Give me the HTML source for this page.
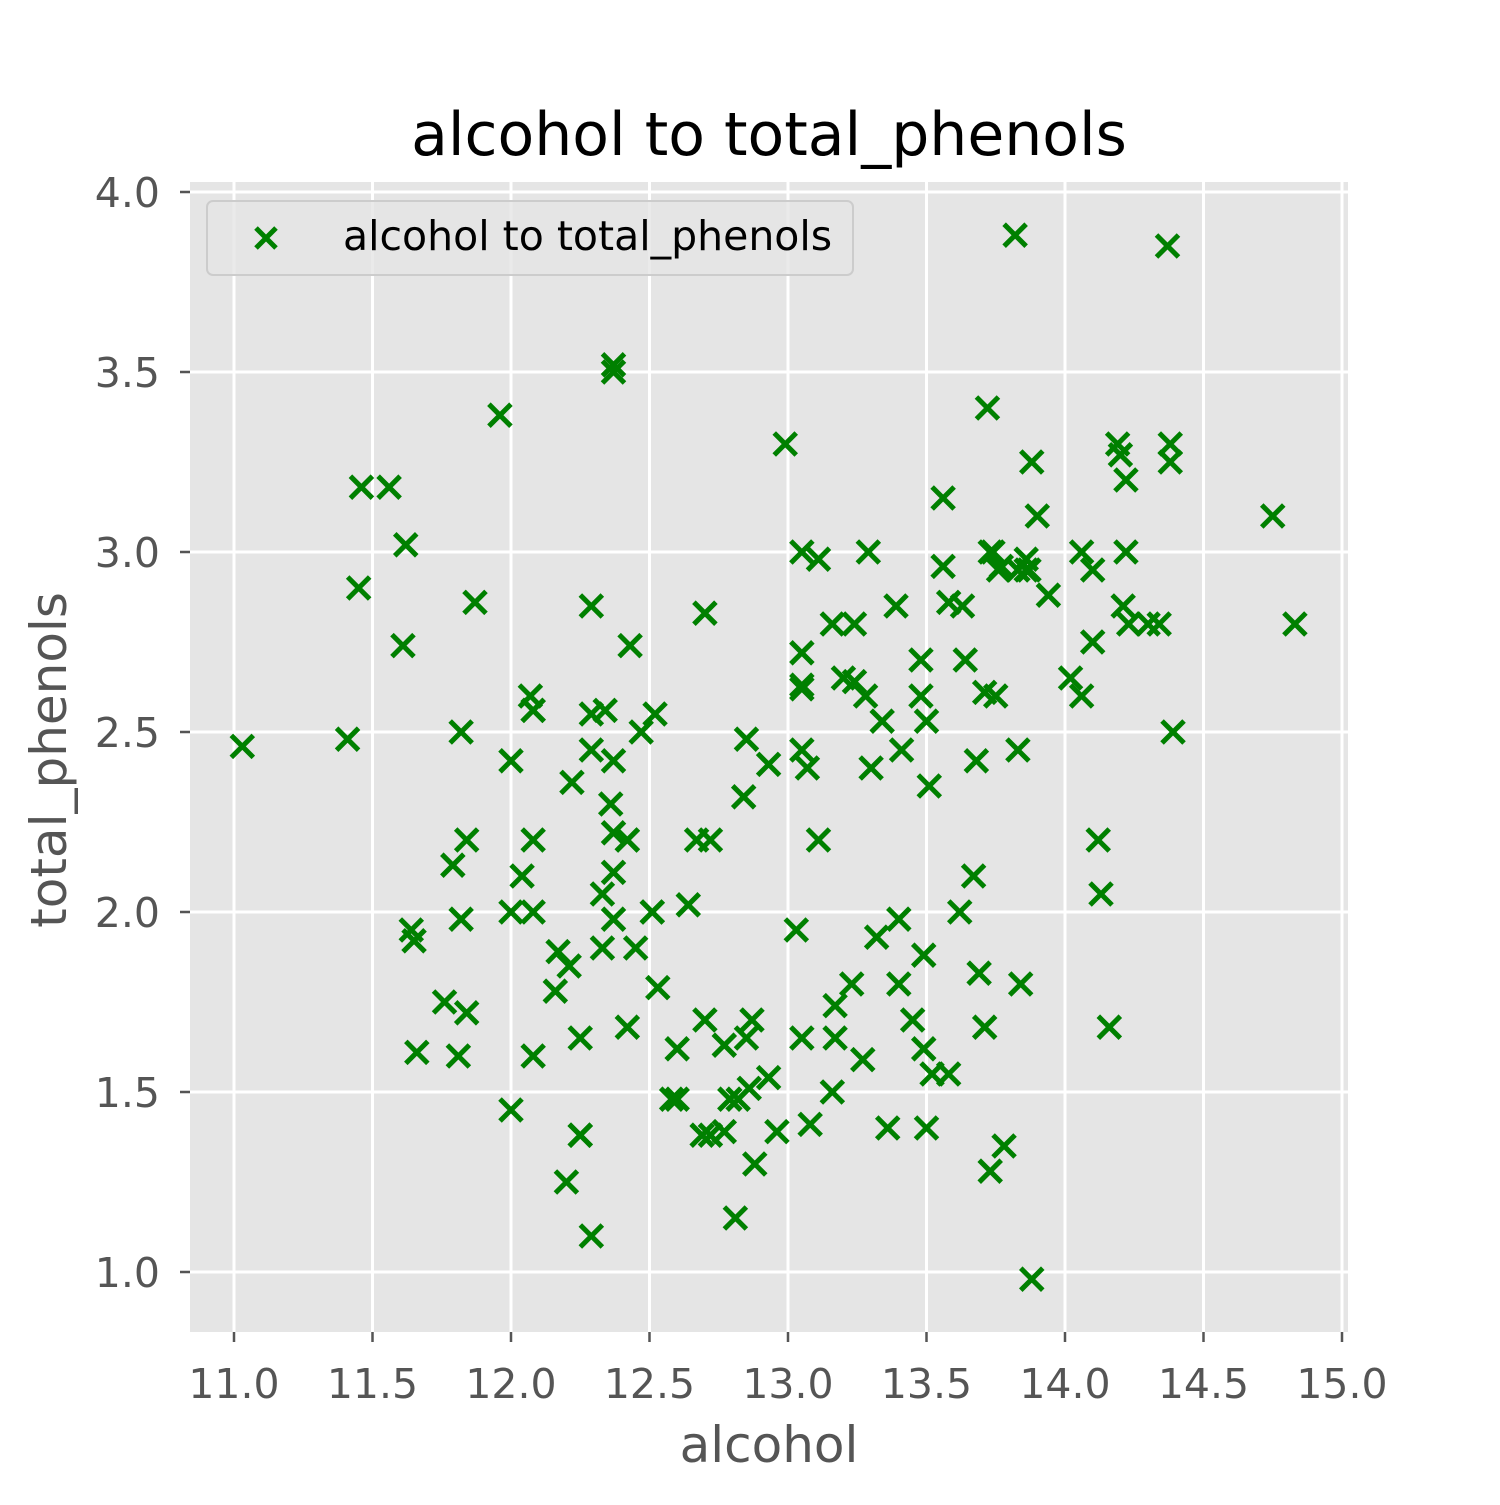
<!DOCTYPE html>
<html><head><meta charset="utf-8"><style>
html,body{margin:0;padding:0;background:#fff;}
svg text{font-family:"DejaVu Sans","Liberation Sans",sans-serif;}
</style></head><body>
<svg id="chart" width="1500" height="1500" xmlns="http://www.w3.org/2000/svg">
<rect width="1500" height="1500" fill="#fff"/>
<text x="769" y="155" font-size="60" text-anchor="middle" fill="#000">alcohol to total_phenols</text>
<rect x="190" y="182" width="1158" height="1150" fill="#e5e5e5"/>
<g id="grid"></g>
<g id="ticks"></g>
<g id="points"></g>
<text x="769" y="1462" font-size="50" text-anchor="middle" fill="#555">alcohol</text>
<text transform="translate(66,760) rotate(-90)" font-size="50" text-anchor="middle" fill="#555">total_phenols</text>
<g>
<rect x="207" y="201" width="646" height="74" rx="6" fill="#e5e5e5" fill-opacity="0.8" stroke="#ccc" stroke-width="2"/>
<path d="M256 228 L276 248 M276 228 L256 248" stroke="#008000" stroke-width="5"/>
<text x="343" y="250" font-size="41" fill="#000">alcohol to total_phenols</text>
</g>
</svg>
<script>
const alcohol=[14.23,13.2,13.16,14.37,13.24,14.2,14.39,14.06,14.83,13.86,14.1,14.12,13.75,14.75,14.38,13.63,14.3,13.83,14.19,13.64,14.06,12.93,13.71,12.85,13.5,13.05,13.39,13.3,13.87,14.02,13.73,13.58,13.68,13.76,13.51,13.48,13.28,13.05,13.07,14.22,13.56,13.41,13.88,13.24,13.05,14.21,14.38,13.9,14.1,13.94,13.05,13.83,13.82,13.77,13.74,13.56,14.22,13.29,13.72,12.37,12.33,12.64,13.67,12.37,12.17,12.37,13.11,12.37,13.34,12.21,12.29,13.86,13.49,12.99,11.96,11.66,13.03,11.84,12.33,12.7,12.0,12.72,12.08,13.05,11.84,12.67,12.16,11.65,11.64,12.08,12.08,12.0,12.69,12.29,11.62,12.47,11.81,12.29,12.37,12.29,12.08,12.6,12.34,11.82,12.51,12.42,12.25,12.72,12.22,11.61,11.46,12.52,11.76,11.41,12.08,11.03,11.82,12.42,12.77,12.0,11.45,11.56,12.42,13.05,11.87,12.07,12.43,11.79,12.37,12.04,12.86,12.88,12.81,12.7,12.51,12.6,12.25,12.53,13.49,12.84,12.93,13.36,13.52,13.62,12.25,13.16,13.88,12.87,13.32,13.08,13.5,12.79,13.11,13.23,12.58,13.17,13.84,12.45,14.34,13.48,12.36,13.69,12.85,12.96,13.78,13.73,13.45,12.82,13.58,13.4,12.2,12.77,14.16,13.71,13.4,13.27,13.17,14.13];
const phenols=[2.8,2.65,2.8,3.85,2.8,3.27,2.5,2.6,2.8,2.98,2.95,2.2,2.6,3.1,3.3,2.85,2.8,2.95,3.3,2.7,3.0,2.41,2.61,2.48,2.53,2.63,2.85,2.4,2.95,2.65,3.0,2.86,2.42,2.95,2.35,2.7,2.6,2.45,2.4,3.0,3.15,2.45,3.25,2.64,3.0,2.85,3.25,3.1,2.75,2.88,2.72,2.45,3.88,2.96,3.0,2.96,3.2,3.0,3.4,1.98,2.05,2.02,2.1,3.5,1.89,2.42,2.98,2.11,2.53,1.85,1.1,2.95,1.88,3.3,3.38,1.61,1.95,1.72,1.9,2.83,2.42,2.2,2.0,1.65,2.2,2.2,1.78,1.92,1.95,2.2,1.6,1.45,1.38,2.55,3.02,2.5,1.6,2.85,3.52,2.45,2.56,1.48,2.56,1.98,2.0,1.68,1.65,1.38,2.36,2.74,3.18,2.55,1.75,2.48,2.56,2.46,2.5,2.2,1.63,2.0,2.9,3.18,2.2,2.62,2.86,2.6,2.74,2.13,2.22,2.1,1.51,1.3,1.15,1.7,2.0,1.62,1.38,1.79,1.62,2.32,1.54,1.4,1.55,2.0,1.38,1.5,0.98,1.7,1.93,1.41,1.4,1.48,2.2,1.8,1.48,1.74,1.8,1.9,2.8,2.6,2.3,1.83,1.65,1.39,1.35,1.28,1.7,1.48,1.55,1.98,1.25,1.39,1.68,1.68,1.8,1.59,1.65,2.05];
const xTicks=[11.0,11.5,12.0,12.5,13.0,13.5,14.0,14.5,15.0];
const yTicks=[1.0,1.5,2.0,2.5,3.0,3.5,4.0];
const NS="http://www.w3.org/2000/svg";
function sx(v){return 234+(v-11)*277;}
function sy(v){return 1272-(v-1)*360;}
function mk(tag,attrs,parent){const e=document.createElementNS(NS,tag);for(const k in attrs)e.setAttribute(k,attrs[k]);parent.appendChild(e);return e;}
const grid=document.getElementById('grid'),ticks=document.getElementById('ticks'),pts=document.getElementById('points');
xTicks.forEach(t=>{
  const x=sx(t);
  const g=mk('line',{x1:x,x2:x,y1:182,y2:1332,stroke:'#fff','stroke-width':3},grid);
  
  
  mk('line',{x1:x,x2:x,y1:1332,y2:1342,stroke:'#555','stroke-width':2.5},ticks);
  const l=mk('text',{x:x,y:1398,'font-size':41,'text-anchor':'middle',fill:'#555'},ticks);
  l.textContent=t.toFixed(1);
  
  
});
yTicks.forEach(t=>{
  const y=sy(t);
  const g=mk('line',{x1:190,x2:1348,y1:y,y2:y,stroke:'#fff','stroke-width':3},grid);
  
  
  mk('line',{x1:180,x2:190,y1:y,y2:y,stroke:'#555','stroke-width':2.5},ticks);
  const l=mk('text',{x:160,y:y+15,'font-size':41,'text-anchor':'end',fill:'#555'},ticks);
  l.textContent=t.toFixed(1);
  
  
});
alcohol.forEach((a,i)=>{
  const x=sx(a),y=sy(phenols[i]),r=11;
  const p=mk('path',{d:`M${x-r} ${y-r} L${x+r} ${y+r} M${x+r} ${y-r} L${x-r} ${y+r}`,stroke:'#008000','stroke-width':5,fill:'none'},pts);
  
  
});
</script>
</body></html>
